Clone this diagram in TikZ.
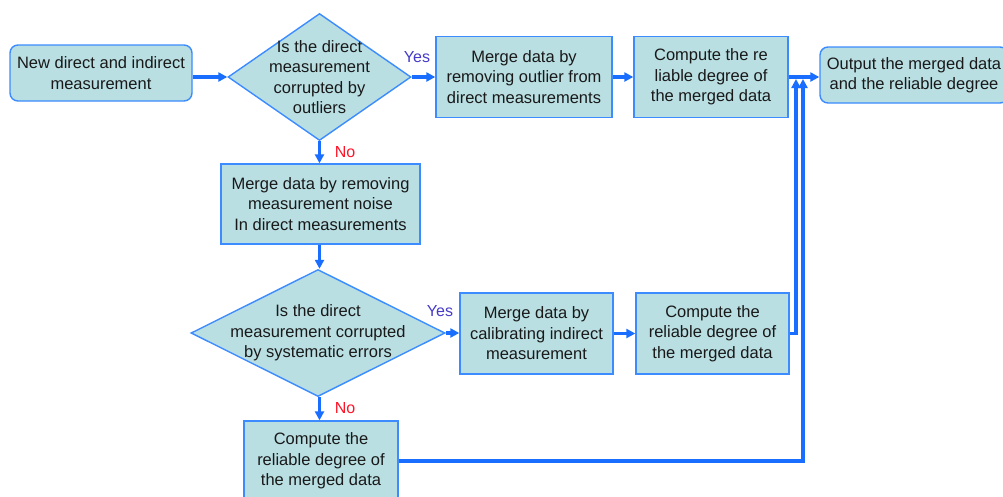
\documentclass[tikz,border=0pt]{standalone}
\usepackage{fontspec}
\setmainfont{Liberation Sans}
\usetikzlibrary{shapes.geometric,arrows.meta}
\definecolor{boxfill}{RGB}{185,223,227}
\definecolor{boxline}{RGB}{60,140,255}
\definecolor{arrowc}{RGB}{25,110,255}
\definecolor{yesc}{RGB}{70,60,200}
\definecolor{noc}{RGB}{255,20,40}
\definecolor{txt}{RGB}{25,25,25}
\begin{document}
\begin{tikzpicture}[x=1pt,y=-1pt,
  base/.style={draw=boxline, fill=boxfill, line width=1.4pt, text=txt, align=center,
    font=\fontsize{16.5}{20.5}\selectfont, inner sep=0pt},
  proc/.style={base, rectangle, minimum height=81pt},
  term/.style={base, rectangle, rounded corners=8pt, minimum height=56pt},
  dec/.style={base, diamond, minimum height=127pt},
  dtext/.style={text=txt, align=center, font=\fontsize{16.5}{20.5}\selectfont, inner sep=0pt},
  yes/.style={text=yesc, font=\fontsize{16}{18}\selectfont, inner sep=0pt},
  no/.style={text=noc, font=\fontsize{16}{18}\selectfont, inner sep=0pt},
  flow/.style={draw=arrowc, line width=3.2pt, -{Triangle[length=9pt,width=9pt]}},
]
\clip (0,0) rectangle (1003,496);
\fill[white] (0,0) rectangle (1003,496);

% nodes
\node[term, minimum width=182pt] (a) at (101,73) {New direct and indirect\\measurement};
\node[dec, minimum width=183pt] (d1) at (319.5,77) {};
\node[dtext] (d1t) at (d1) {Is the direct\\measurement\\corrupted by\\outliers};
\node[proc, minimum width=176pt] (b1) at (524,77) {Merge data by\\removing outlier from\\direct measurements};
\node[proc, minimum width=154pt] (b2) at (711,77) {Compute the re\\liable degree of\\the merged data};
\node[term, minimum width=188pt] (out) at (914,75) {Output the merged data\\and the reliable degree};

\node[proc, minimum width=199pt, minimum height=80pt] (m) at (320.5,204) {Merge data by removing\\measurement noise\\In direct measurements};
\node[dec, minimum width=254pt] (d2) at (318,333) {};
\node[dtext] (d2t) at (d2) {Is the direct\\measurement corrupted\\by systematic errors};
\node[proc, minimum width=153pt] (c1) at (536.5,333.5) {Merge data by\\calibrating indirect\\measurement};
\node[proc, minimum width=153pt] (c2) at (712.5,333.5) {Compute the\\reliable degree of\\the merged data};
\node[proc, minimum width=154pt, minimum height=80pt] (c3) at (321,461) {Compute the\\reliable degree of\\the merged data};

% labels
\node[yes] (y1) at (417,57) {Yes};
\node[no] (n1) at (345,152) {No};
\node[yes] (y2) at (440,311) {Yes};
\node[no] (n2) at (345,408) {No};

% join points
\coordinate (j1) at (796,79);
\coordinate (j2) at (803,79);

% connectors
\draw[flow] (a.east |- d1.west) -- (d1.west);
\draw[flow] (d1.east) -- (b1.west |- d1.east);
\draw[flow] (b1.east) -- (b2.west);
\draw[flow] (b2.east) -- (out.west |- b2.east);
\draw[flow] (d1.south) -- (d1.south |- m.north);
\draw[flow] (d1.south |- m.south) -- (d1.south |- d2.north);
\draw[flow] (d2.east) -- (c1.west |- d2.east);
\draw[flow] (c1.east) -- (c2.west);
\draw[flow] (d1.south |- d2.south) -- (d1.south |- c3.north);
\draw[flow] (c2.east) -| (j1);
\draw[flow] (c3.east) -| (j2);
\end{tikzpicture}
\end{document}
